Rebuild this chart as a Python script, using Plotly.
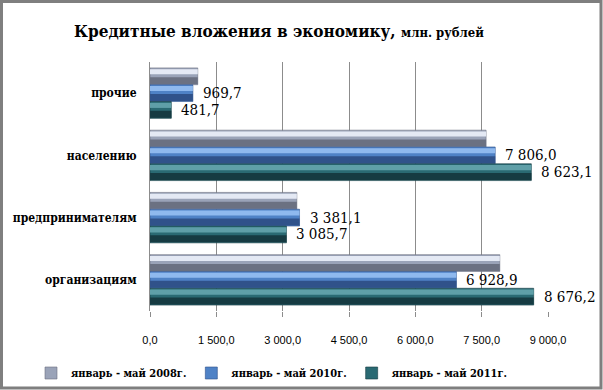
import plotly.graph_objects as go

categories = ["прочие", "населению", "предпринимателям", "организациям"]
series_names = ["январь - май 2008г.", "январь - май 2010г.", "январь - май 2011г."]
v2008 = [1080.0, 7600.0, 3320.0, 7910.0]
v2010 = [969.7, 7806.0, 3381.1, 6928.9]
v2011 = [481.7, 8623.1, 3085.7, 8676.2]
tick_vals = [0, 1500, 3000, 4500, 6000, 7500, 9000]
show_labels = [False, True, True]

series = [v2008, v2010, v2011]
palette = [
    ("#9aa3b8", "#6b7182", "#e4e9f4"),
    ("#4f82c6", "#30528a", "#8fb9ee"),
    ("#2a6a73", "#163b42", "#5f9fa8"),
]

SERIF = "DejaVu Serif Condensed, DejaVu Serif, serif"
SANS = "Liberation Sans, Arial, sans-serif"

W, H = 603, 390
ML, MR, MT, MB = 150, 55, 62, 79
PW, PH = W - ML - MR, H - MT - MB

bw = 0.27
offsets = [-0.405, -0.135, 0.135]
ypos = list(range(len(categories)))

def fmt(v):
    return f"{v:,.1f}".replace(",", " ").replace(".", ",")

fig = go.Figure()
for k, vals in enumerate(series):
    base, dark, light = palette[k]
    off = offsets[k]
    fig.add_trace(go.Bar(
        y=ypos, x=vals, orientation="h", name=series_names[k],
        width=bw, offset=off, marker=dict(color=base, line=dict(color=dark, width=0.6)),
        hoverinfo="skip", showlegend=True))
    fig.add_trace(go.Bar(
        y=ypos, x=vals, orientation="h", width=bw * 0.42, offset=off + bw * 0.55,
        marker=dict(color=dark, line=dict(width=0)), hoverinfo="skip", showlegend=False))
    fig.add_trace(go.Bar(
        y=ypos, x=vals, orientation="h", width=bw * 0.3, offset=off + bw * 0.08,
        marker=dict(color=light, line=dict(width=0)), hoverinfo="skip", showlegend=False))

annotations = []
for k, vals in enumerate(series):
    if not show_labels[k]:
        continue
    for i, v in enumerate(vals):
        annotations.append(dict(
            x=v, y=i + offsets[k] + bw / 2, xref="x", yref="y", text=fmt(v),
            showarrow=False, xanchor="left", yanchor="middle", xshift=8,
            font=dict(family=SERIF, size=15, color="#000000")))

fig.update_layout(
    width=W, height=H,
    margin=dict(l=ML, r=MR, t=MT, b=MB, autoexpand=False),
    paper_bgcolor="white", plot_bgcolor="white",
    barmode="overlay",
    separators=", ",
    title=dict(
        text="<b>Кредитные вложения в экономику, <span style='font-size:13px'>млн. рублей</span></b>",
        x=279 / W, xanchor="center", xref="container",
        y=1 - 31 / H, yanchor="middle", yref="container",
        font=dict(family=SERIF, size=17, color="#000000")),
    xaxis=dict(
        range=[0, 9000], tickvals=tick_vals, tickformat=",.1f",
        showgrid=True, gridcolor="#8c8c8c", gridwidth=1, zeroline=False,
        showline=False, ticks="outside", ticklen=5, tickcolor="#8c8c8c",
        ticklabelstandoff=14,
        tickfont=dict(family=SANS, size=11, color="#000000")),
    yaxis=dict(
        tickvals=ypos, ticktext=categories, range=[3.5, -0.5],
        showgrid=False, zeroline=False, showline=True, linecolor="#8c8c8c", linewidth=1,
        ticks="", ticklabelstandoff=10,
        tickfont=dict(family=SERIF, size=12, color="#000000", weight="bold")),
    legend=dict(
        orientation="h", x=(31 - ML) / PW, xanchor="left",
        y=(H - MB - 373) / PH, yanchor="middle",
        font=dict(family=SERIF, size=11, color="#000000", weight="bold"),
        bgcolor="rgba(0,0,0,0)"),
    annotations=annotations,
    shapes=[dict(
        type="rect", xref="paper", yref="paper",
        x0=(1.5 - ML) / PW, x1=(W - 2 - ML) / PW,
        y0=(H - MB - (H - 2)) / PH, y1=(H - MB - 1.5) / PH,
        line=dict(color="#7f7f7f", width=3), fillcolor="rgba(0,0,0,0)", layer="above")],
)

fig.write_html("out.html", config={"displayModeBar": False},
               post_script="document.body.style.margin='0';document.body.style.padding='0';")
